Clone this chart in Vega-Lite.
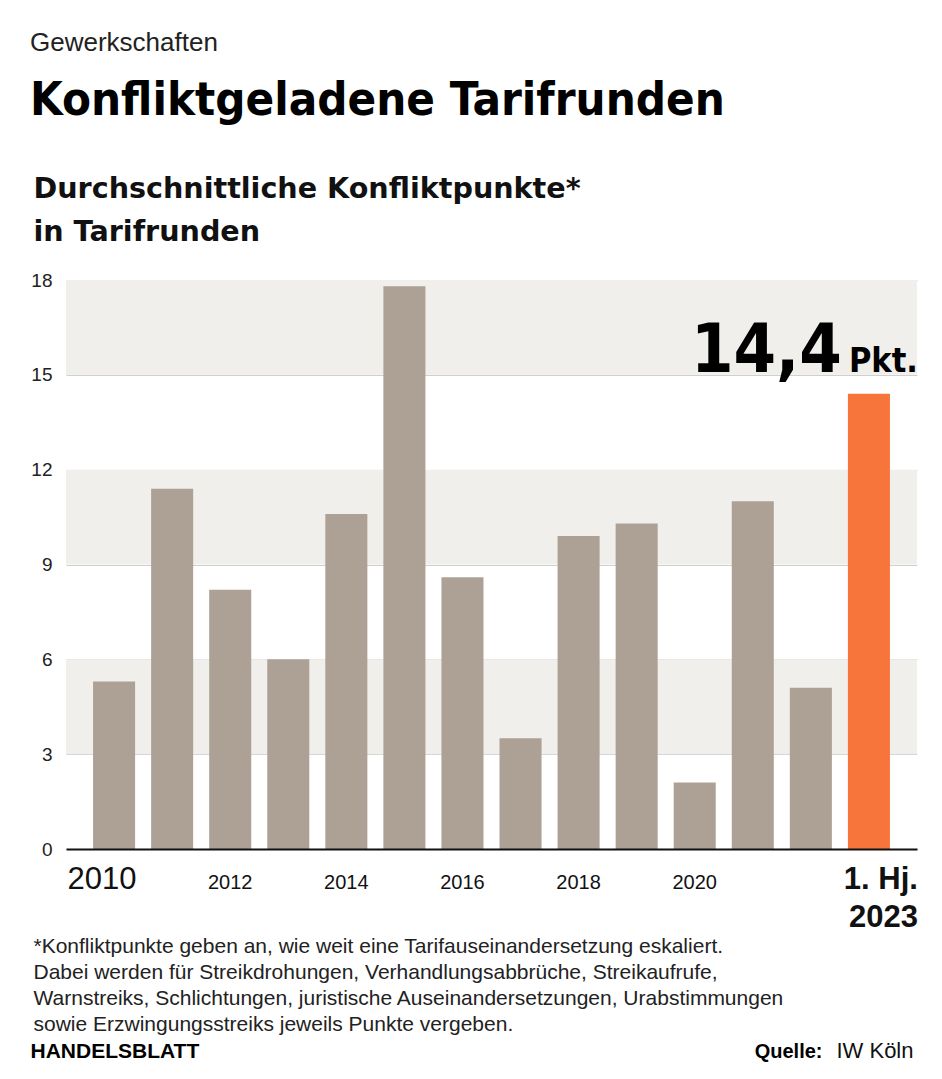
{
  "$schema": "https://vega.github.io/schema/vega-lite/v6.json",
  "width": 851,
  "height": 569,
  "autosize": {"type": "none"},
  "padding": {"left": 66, "top": 280, "right": 25, "bottom": 230},
  "background": "white",
  "title": {
    "text": "Gewerkschaften",
    "subtitle": "Konfliktgeladene Tarifrunden",
    "anchor": "start",
    "frame": "bounds",
    "font": "Liberation Sans",
    "fontSize": 26,
    "fontWeight": "normal",
    "color": "#222222",
    "subtitleFont": "DejaVu Sans Condensed, Roboto Condensed, Roboto",
    "subtitleFontSize": 47,
    "subtitleFontWeight": "bold",
    "subtitleColor": "#000000",
    "subtitlePadding": 22,
    "offset": 50
  },
  "datasets": {
    "werte": [
      {"jahr": "2010", "wert": 5.3, "typ": "hist"},
      {"jahr": "2011", "wert": 11.4, "typ": "hist"},
      {"jahr": "2012", "wert": 8.2, "typ": "hist"},
      {"jahr": "2013", "wert": 6.0, "typ": "hist"},
      {"jahr": "2014", "wert": 10.6, "typ": "hist"},
      {"jahr": "2015", "wert": 17.8, "typ": "hist"},
      {"jahr": "2016", "wert": 8.6, "typ": "hist"},
      {"jahr": "2017", "wert": 3.5, "typ": "hist"},
      {"jahr": "2018", "wert": 9.9, "typ": "hist"},
      {"jahr": "2019", "wert": 10.3, "typ": "hist"},
      {"jahr": "2020", "wert": 2.1, "typ": "hist"},
      {"jahr": "2021", "wert": 11.0, "typ": "hist"},
      {"jahr": "2022", "wert": 5.1, "typ": "hist"},
      {"jahr": "1. Hj. 2023", "wert": 14.4, "typ": "aktuell"}
    ],
    "baender": [
      {"von": 3, "bis": 6},
      {"von": 9, "bis": 12},
      {"von": 15, "bis": 18}
    ]
  },
  "layer": [
    {
      "data": {"name": "baender"},
      "mark": {"type": "rect", "color": "#f0efeb"},
      "encoding": {
        "y": {"field": "von", "type": "quantitative", "scale": {"domain": [0, 18], "nice": false}, "axis": null},
        "y2": {"field": "bis"}
      }
    },
    {
      "data": {"name": "werte"},
      "mark": {"type": "bar"},
      "encoding": {
        "x": {
          "field": "jahr",
          "type": "nominal",
          "sort": null,
          "scale": {"paddingInner": 0.276, "paddingOuter": 0.466},
          "axis": {
            "orient": "bottom",
            "zindex": 1,
            "title": [
              "*Konfliktpunkte geben an, wie weit eine Tarifauseinandersetzung eskaliert.",
              "Dabei werden für Streikdrohungen, Verhandlungsabbrüche, Streikaufrufe,",
              "Warnstreiks, Schlichtungen, juristische Auseinandersetzungen, Urabstimmungen",
              "sowie Erzwingungsstreiks jeweils Punkte vergeben."
            ],
            "titleAlign": "left",
            "titleAngle": 0,
            "titleX": -33,
            "titleY": 103,
            "titleBaseline": "alphabetic",
            "titleFont": "Liberation Sans",
            "titleFontSize": 21,
            "titleFontWeight": "normal",
            "titleLineHeight": 26,
            "titleColor": "#222222",
            "labelAngle": 0,
            "labelExpr": "datum.value == '1. Hj. 2023' ? ['1. Hj.', '2023'] : (indexof(['2010','2012','2014','2016','2018','2020'], datum.value) >= 0 ? datum.value : '')",
            "labelBaseline": "alphabetic",
            "labelPadding": 39,
            "labelLineHeight": 38,
            "labelFont": "Liberation Sans",
            "labelColor": "#111111",
            "labelOverlap": false,
            "labelBound": false,
            "labelFlush": false,
            "labelFontSize": {"condition": [{"test": "datum.value == '2010'", "value": 31}, {"test": "datum.value == '1. Hj. 2023'", "value": 31}], "value": 20},
            "labelFontWeight": {"condition": {"test": "datum.value == '1. Hj. 2023'", "value": "bold"}, "value": "normal"},
            "labelAlign": {"condition": {"test": "datum.value == '1. Hj. 2023'", "value": "right"}, "value": "center"},
            "labelOffset": {"condition": [{"test": "datum.value == '1. Hj. 2023'", "value": 49}, {"test": "datum.value == '2010'", "value": -12}], "value": 0},
            "ticks": false,
            "grid": false,
            "domainColor": "#111111",
            "domainWidth": 2
          }
        },
        "y": {
          "field": "wert",
          "type": "quantitative",
          "scale": {"domain": [0, 18], "nice": false},
          "axis": {
            "title": ["Durchschnittliche Konfliktpunkte*", "in Tarifrunden"],
            "titleAngle": 0,
            "titleAlign": "left",
            "titleBaseline": "alphabetic",
            "titleX": -33,
            "titleY": -83,
            "titleFont": "DejaVu Sans",
            "titleFontSize": 28.6,
            "titleFontWeight": "bold",
            "titleColor": "#111111",
            "titleLineHeight": 43,
            "values": [0, 3, 6, 9, 12, 15, 18],
            "labelFont": "Liberation Sans",
            "labelFontSize": 19,
            "labelColor": "#222222",
            "labelPadding": 14,
            "labelBaseline": "middle",
            "ticks": false,
            "domain": false,
            "grid": true,
            "gridColor": "#cfcfcf",
            "gridWidth": 1
          }
        },
        "color": {
          "field": "typ",
          "type": "nominal",
          "scale": {"domain": ["hist", "aktuell"], "range": ["#ada196", "#f7743b"]},
          "legend": null
        }
      }
    },
    {
      "data": {"name": "werte"},
      "transform": [{"filter": "datum.typ == 'aktuell'"}],
      "mark": {"type": "text", "align": "right", "baseline": "alphabetic", "dx": -27, "dy": -22, "font": "DejaVu Sans Condensed, Roboto Condensed, Roboto", "fontSize": 68, "fontWeight": "bold", "color": "#000000"},
      "encoding": {
        "x": {
          "field": "jahr",
          "type": "nominal",
          "sort": null,
          "axis": {
            "orient": "top",
            "labels": false,
            "ticks": false,
            "domain": false,
            "grid": false,
            "title": "HANDELSBLATT",
            "titleAngle": 0,
            "titleX": -36,
            "titleY": 777,
            "titleAlign": "left",
            "titleBaseline": "alphabetic",
            "titleFont": "Liberation Sans",
            "titleFontSize": 21,
            "titleFontWeight": "bold",
            "titleColor": "#000000"
          }
        },
        "y": {
          "field": "wert",
          "type": "quantitative",
          "axis": {
            "orient": "right",
            "labels": false,
            "ticks": false,
            "domain": false,
            "grid": false,
            "title": "Quelle:",
            "titleAngle": 0,
            "titleX": -95,
            "titleY": 777,
            "titleAlign": "right",
            "titleBaseline": "alphabetic",
            "titleFont": "Liberation Sans",
            "titleFontSize": 20,
            "titleFontWeight": "bold",
            "titleColor": "#000000"
          }
        },
        "text": {"field": "wert", "type": "quantitative", "format": ".1f"}
      }
    },
    {
      "data": {"name": "werte"},
      "transform": [{"filter": "datum.typ == 'aktuell'"}],
      "mark": {"type": "text", "align": "right", "baseline": "alphabetic", "dx": 49, "dy": -22, "font": "DejaVu Sans Condensed, Roboto Condensed, Roboto", "fontSize": 34, "fontWeight": "bold", "color": "#000000", "text": "Pkt."},
      "encoding": {
        "x": {
          "field": "jahr",
          "type": "nominal",
          "sort": null,
          "axis": {
            "orient": "top",
            "labels": false,
            "ticks": false,
            "domain": false,
            "grid": false,
            "title": "IW Köln",
            "titleAngle": 0,
            "titleX": 847,
            "titleY": 777,
            "titleAlign": "right",
            "titleBaseline": "alphabetic",
            "titleFont": "Liberation Sans",
            "titleFontSize": 22,
            "titleFontWeight": "normal",
            "titleColor": "#111111"
          }
        },
        "y": {"field": "wert", "type": "quantitative", "axis": null}
      }
    }
  ],
  "resolve": {"axis": {"x": "independent", "y": "independent"}},
  "config": {
    "view": {"stroke": null},
    "locale": {"number": {"decimal": ",", "thousands": ".", "grouping": [3], "currency": ["", " €"]}}
  }
}
